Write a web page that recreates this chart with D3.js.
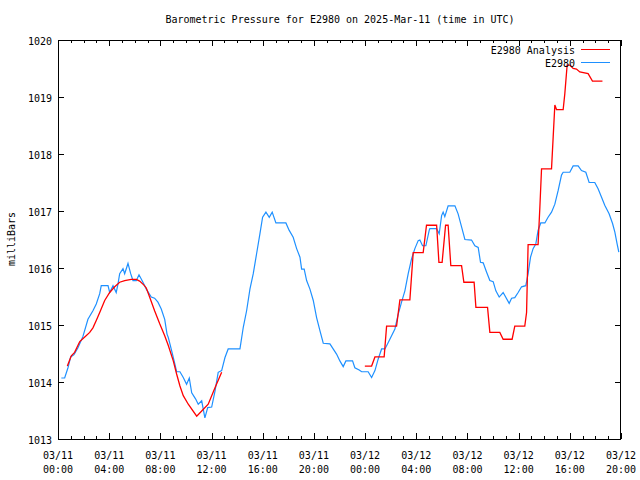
<!DOCTYPE html>
<html><head><meta charset="utf-8">
<script src="https://cdn.jsdelivr.net/npm/d3@7"></script>
<style>
body{margin:0;background:#fff;}
text{font-family:"DejaVu Sans Mono",monospace;font-size:10px;fill:#000;}
</style></head>
<body><svg id="c" width="640" height="480"></svg>
<script>
// Hours since 2025-03-11 00:00 UTC
const stationHours = [0.26,0.52,0.78,0.99,1.25,1.56,1.95,2.34,2.73,2.99,3.26,3.38,3.91,4.04,4.30,4.55,4.69,4.82,5.08,5.21,5.47,5.68,5.86,6.12,6.33,6.64,6.90,7.29,7.55,7.81,8.07,8.34,8.52,8.62,8.88,9.14,9.27,9.53,9.79,10.05,10.26,10.45,10.76,10.96,11.23,11.48,11.70,12.01,12.27,12.52,12.79,13.05,13.30,14.22,14.48,14.74,15.0,15.26,15.52,15.78,15.99,16.25,16.51,16.74,17.03,17.81,18.07,18.38,18.65,18.91,19.04,19.24,19.43,19.69,19.95,20.21,20.47,20.73,21.25,21.77,22.03,22.29,22.5,23.02,23.2,23.54,23.73,24.24,24.51,24.77,25.02,25.29,25.55,25.80,26.07,26.33,26.59,26.85,27.11,27.37,27.63,27.89,28.15,28.28,28.49,28.75,29.01,29.06,29.59,29.79,29.98,30.10,30.23,30.49,31.02,31.27,31.54,31.80,32.32,32.58,32.84,33.02,33.23,33.49,33.75,34.01,34.22,34.48,34.79,35.26,35.45,35.70,35.96,36.23,36.56,36.74,36.93,37.13,37.34,37.52,37.73,38.05,38.30,38.57,38.83,39.09,39.35,39.48,40.0,40.26,40.65,40.91,41.25,41.51,41.95,42.21,42.48,42.73,43.07,43.34,43.52,43.70,43.83];
const stationPressure = [1014.07,1014.07,1014.25,1014.44,1014.48,1014.6,1014.8,1015.1,1015.25,1015.37,1015.55,1015.69,1015.69,1015.57,1015.69,1015.57,1015.72,1015.9,1015.99,1015.9,1016.08,1015.9,1015.78,1015.78,1015.88,1015.75,1015.63,1015.49,1015.47,1015.4,1015.28,1015.1,1014.84,1014.78,1014.55,1014.31,1014.18,1014.18,1014.08,1013.96,1014.07,1013.81,1013.70,1013.61,1013.67,1013.37,1013.55,1013.56,1013.84,1014.17,1014.2,1014.43,1014.58,1014.58,1014.96,1015.25,1015.63,1015.9,1016.25,1016.6,1016.89,1016.98,1016.89,1016.98,1016.79,1016.79,1016.66,1016.54,1016.34,1016.19,1015.98,1015.98,1015.78,1015.63,1015.43,1015.13,1014.9,1014.68,1014.67,1014.49,1014.37,1014.27,1014.37,1014.37,1014.25,1014.21,1014.18,1014.18,1014.08,1014.2,1014.4,1014.58,1014.58,1014.69,1014.81,1014.93,1015.19,1015.4,1015.6,1015.9,1016.16,1016.34,1016.48,1016.49,1016.39,1016.39,1016.66,1016.69,1016.69,1016.6,1016.92,1016.98,1016.9,1017.09,1017.09,1016.95,1016.72,1016.5,1016.49,1016.39,1016.36,1016.1,1016.09,1015.93,1015.78,1015.76,1015.6,1015.49,1015.57,1015.38,1015.47,1015.48,1015.57,1015.67,1015.69,1015.9,1016.19,1016.34,1016.42,1016.66,1016.79,1016.79,1016.89,1016.98,1017.12,1017.36,1017.63,1017.68,1017.68,1017.79,1017.79,1017.71,1017.68,1017.5,1017.5,1017.39,1017.24,1017.1,1016.95,1016.78,1016.63,1016.42,1016.28];
const analysisHours = [0.73,1.04,1.30,1.70,2.09,2.48,2.73,2.99,3.26,3.65,4.04,4.43,4.82,5.21,5.73,6.12,6.38,6.72,6.90,7.16,7.55,7.95,8.34,8.62,9.01,9.27,9.53,9.79,10.18,10.84,11.23,11.74,12.27,12.79,18.0,23.98,24.51,24.77,25.49,25.68,26.46,26.72,27.5,27.76,28.54,28.80,29.59,29.77,30.02,30.29,30.49,30.70,31.54,31.72,32.52,32.66,33.57,33.75,34.53,34.79,35.49,35.70,36.48,36.62,36.74,37.52,37.66,37.79,38.57,38.70,38.83,38.96,39.48,39.61,39.79,40.0,40.26,40.52,40.78,41.43,41.77,42.55];
const analysisPressure = [1014.28,1014.46,1014.52,1014.71,1014.79,1014.87,1014.95,1015.08,1015.22,1015.43,1015.57,1015.67,1015.75,1015.78,1015.8,1015.8,1015.77,1015.7,1015.65,1015.49,1015.25,1015.02,1014.81,1014.64,1014.37,1014.14,1013.93,1013.76,1013.61,1013.4,1013.49,1013.61,1013.9,1014.17,null,1014.28,1014.28,1014.44,1014.44,1014.98,1014.98,1015.44,1015.44,1016.27,1016.27,1016.75,1016.75,1016.1,1016.1,1016.75,1016.75,1016.04,1016.04,1015.75,1015.75,1015.31,1015.31,1014.87,1014.87,1014.75,1014.75,1014.98,1014.98,1015.22,1016.41,1016.41,1017.07,1017.74,1017.74,1018.3,1018.86,1018.78,1018.78,1019.06,1019.56,1019.56,1019.5,1019.49,1019.44,1019.41,1019.28,1019.28];
const xTickHours = [0,4,8,12,16,20,24,28,32,36,40,44];
const xTickDates = ["03/11","03/11","03/11","03/11","03/11","03/11","03/12","03/12","03/12","03/12","03/12","03/12"];
const xTickTimes = ["00:00","04:00","08:00","12:00","16:00","20:00","00:00","04:00","08:00","12:00","16:00","20:00"];
const yTicks = [1013,1014,1015,1016,1017,1018,1019,1020];
const seriesNames = ["E2980 Analysis","E2980"];
const seriesColors = ["#ff0000","#1e90ff"];

const L=58,R=621,T=40,B=439;
const svg=d3.select("#c");
const x=d3.scaleLinear().domain([0,44]).range([L,R]);
const y=d3.scaleLinear().domain([1013,1020]).range([B,T]);

svg.append("text").attr("x",340).attr("y",23).attr("text-anchor","middle")
  .text("Barometric Pressure for E2980 on 2025-Mar-11 (time in UTC)");

const g=svg.append("g").attr("shape-rendering","crispEdges");
d3.range(0,45).forEach(h=>{
  const major=h%4===0, len=major?6:3, xx=Math.round(x(h))+0.5;
  g.append("line").attr("x1",xx).attr("x2",xx).attr("y1",B).attr("y2",B-len).attr("stroke","#000");
  g.append("line").attr("x1",xx).attr("x2",xx).attr("y1",T).attr("y2",T+len).attr("stroke","#000");
});
yTicks.forEach(v=>{
  const yy=Math.round(y(v))+0.5;
  g.append("line").attr("x1",L).attr("x2",L+6).attr("y1",yy).attr("y2",yy).attr("stroke","#000");
  g.append("line").attr("x1",R).attr("x2",R-6).attr("y1",yy).attr("y2",yy).attr("stroke","#000");
  svg.append("text").attr("x",52).attr("y",yy+4).attr("text-anchor","end").text(v);
});
xTickHours.forEach((h,i)=>{
  svg.append("text").attr("x",x(h)).attr("y",459).attr("text-anchor","middle").text(xTickDates[i]);
  svg.append("text").attr("x",x(h)).attr("y",473).attr("text-anchor","middle").text(xTickTimes[i]);
});
svg.append("text").attr("transform","translate(15,239) rotate(-90)").attr("text-anchor","middle").text("milliBars");

const line=d3.line().defined(d=>d[1]!=null).x(d=>x(d[0])).y(d=>y(d[1]));
const blue=stationHours.map((h,i)=>[h,stationPressure[i]]);
const red=analysisHours.map((h,i)=>[h,analysisPressure[i]]);
svg.append("path").attr("d",line(blue)).attr("fill","none").attr("stroke",seriesColors[1]).attr("stroke-width",1.2);
svg.append("path").attr("d",line(red)).attr("fill","none").attr("stroke",seriesColors[0]).attr("stroke-width",1.3);

svg.append("rect").attr("shape-rendering","crispEdges").attr("x",L+0.5).attr("y",T+0.5).attr("width",R-L-1).attr("height",B-T).attr("fill","none").attr("stroke","#000");

seriesNames.forEach((n,i)=>{
  const yy=49.5+i*13;
  svg.append("text").attr("x",575).attr("y",yy+4).attr("text-anchor","end").text(n);
  svg.append("line").attr("shape-rendering","crispEdges").attr("x1",581).attr("x2",610).attr("y1",yy).attr("y2",yy).attr("stroke",seriesColors[i]).attr("stroke-width",1);
});
</script></body></html>
